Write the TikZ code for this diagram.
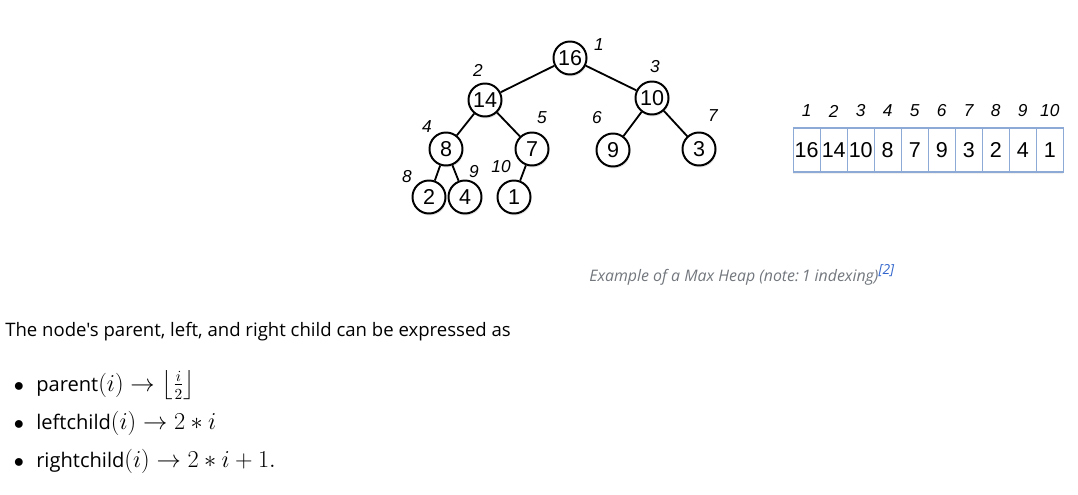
\documentclass[tikz,border=0pt]{standalone}
\usepackage{fontspec}
\usepackage{amsmath}
\setmainfont{Open Sans}
\newfontfamily\bodyfont{Open Sans}
\newfontfamily\heapfont{Liberation Sans}
\usetikzlibrary{positioning, shadows, calc}
\definecolor{cellblue}{HTML}{8DA9D6}
\definecolor{capgray}{HTML}{72777D}
\definecolor{reflink}{HTML}{3366CC}
\newcommand{\bigmath}[1]{{\fontsize{16}{19}\selectfont$#1$}}
\tikzset{
    heapnode/.style={circle, draw=black, line width=1.4pt, fill=white,
        minimum size=0.825cm, inner sep=0pt, font=\heapfont\fontsize{15.3}{17}\selectfont,
        drop shadow={opacity=0.22, shadow xshift=0.6pt, shadow yshift=-1.4pt}},
    heapedge/.style={line width=1.3pt, black},
    idx/.style={font=\heapfont\itshape\fontsize{12.3}{14}\selectfont, inner sep=0pt},
    cell/.style={draw=cellblue, line width=0.8pt, fill=white, inner sep=0pt, outer sep=0pt,
        minimum width=0.675cm, minimum height=1.1cm,
        font=\heapfont\fontsize{15.3}{17}\selectfont,
        drop shadow={opacity=0.12, shadow xshift=0pt, shadow yshift=-1.6pt}},
    body/.style={font=\bodyfont\fontsize{13.2}{16}\selectfont, inner sep=0pt, anchor=base west},
    item/.style={body, font=\bodyfont\fontsize{14.3}{17}\selectfont},
    caption/.style={font=\itshape\fontsize{11.3}{13}\selectfont, text=capgray, inner sep=0pt}
}
\begin{document}
\begin{tikzpicture}[x=0.025cm, y=-0.025cm]
    \useasboundingbox (0,0) rectangle (1078,494);
    % heap tree
    \node[heapnode] (h16) at (570,58) {16};
    \node[heapnode] (h14) at (485,100) {14};
    \node[heapnode] (h10) at (652,98) {10};
    \node[heapnode] (h8) at (446,149) {8};
    \node[heapnode] (h7) at (532,149) {7};
    \node[heapnode] (h9) at (613,150) {9};
    \node[heapnode] (h3) at (699,149) {3};
    \node[heapnode] (h2) at (429,197) {2};
    \node[heapnode] (h4) at (465,197) {4};
    \node[heapnode] (h1) at (514,197) {1};
    \foreach \a/\b in {h16/h14, h16/h10, h14/h8, h14/h7, h10/h9, h10/h3, h8/h2, h8/h4, h7/h1}{
        \draw[heapedge] (\a) -- (\b);
    }
    \node[idx] (i1) at (599,45) {1};
    \node[idx] (i2) at (478,70) {2};
    \node[idx] (i3) at (655,67) {3};
    \node[idx] (i4) at (427,127) {4};
    \node[idx] (i5) at (542,118) {5};
    \node[idx] (i6) at (597,118) {6};
    \node[idx] (i7) at (713,116) {7};
    \node[idx] (i8) at (407,177) {8};
    \node[idx] (i9) at (474,172) {9};
    \node[idx] (i10) at (501,167) {10};
    % array
    \coordinate (idxrow) at (0,111);
    \node[cell] (c1) at (806.7,150) {16};
    \foreach \v [count=\i from 2, remember=\i as \j (initially 1)] in {14,10,8,7,9,3,2,4,1}{
        \node[cell, right=0pt of c\j] (c\i) {\v};
    }
    \foreach \i in {1,...,10}{
        \node[idx] (a\i) at (c\i |- idxrow) {\i};
    }
    % caption
    \node[caption, anchor=west] (cap) at (589,275)
        {Example of a Max Heap (note:\,1 indexing)\raisebox{0.85ex}{\textcolor{reflink}{\fontsize{9.8}{11}\selectfont[2]}}};
    % text
    \node[body] (intro) at (5,336) {The node's parent, left, and right child can be expressed as};
    \foreach \t [count=\k] in {{parent\bigmath{(i)\rightarrow\left\lfloor\frac{i}{2}\right\rfloor}},
        {leftchild\bigmath{(i)\rightarrow 2*i}}, {rightchild\bigmath{(i)\rightarrow 2*i+1.}}}{
        \node[item] (b\k) at (36,353+38*\k) {\t};
        \node[body, anchor=base] (d\k) at (19,353+38*\k) {{\fontsize{15}{18}\selectfont$\bullet$}};
    }
\end{tikzpicture}
\end{document}
